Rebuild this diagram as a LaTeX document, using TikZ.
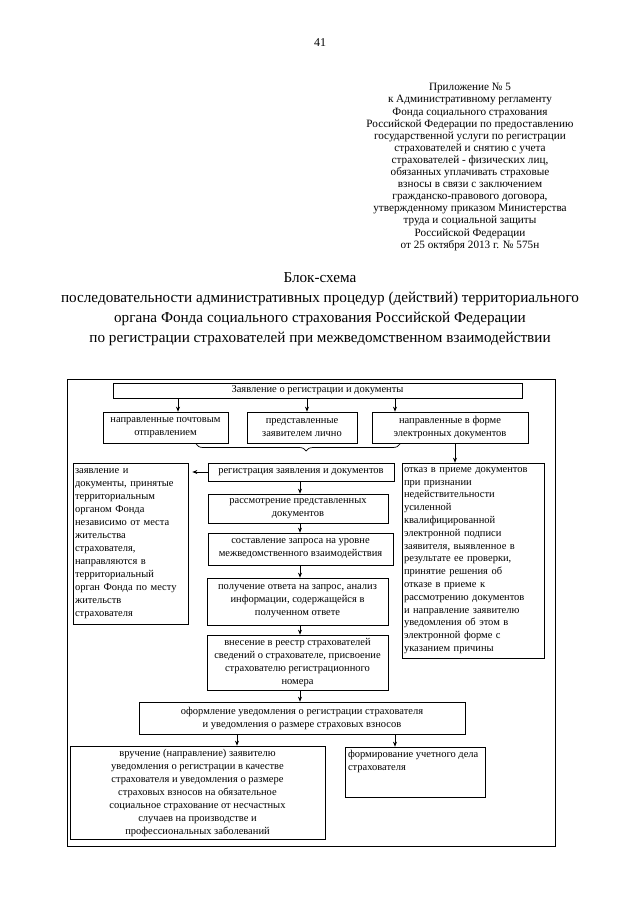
\documentclass[tikz,border=0pt]{standalone}
\usepackage{fontspec}
\setmainfont{Liberation Serif}
\usetikzlibrary{arrows.meta,decorations.pathreplacing}
\tikzset{
    every node/.style={inner sep=2pt, font=\fontsize{10.5}{13}\selectfont},
    bx/.style={draw, line width=0.7pt, align=center},
    arr/.style={-{Stealth[length=5pt,width=4pt]}, line width=0.7pt}
}

\begin{document}
\begin{tikzpicture}[x=1pt, y=-1pt]
        \useasboundingbox (0,0) rectangle (640,905);
        \node (pg) at (320, 43) {\fontsize{12}{14}\selectfont 41};
        \node (hd) [align=center, font=\fontsize{11.2}{12.1}\selectfont] at (470, 167) {Приложение № 5\\
                к Административному регламенту\\
                Фонда социального страхования\\
                Российской Федерации по предоставлению\\
                государственной услуги по регистрации\\
                страхователей и снятию с учета\\
                страхователей - физических лиц,\\
                обязанных уплачивать страховые\\
                взносы в связи с заключением\\
                гражданско-правового договора,\\
                утвержденному приказом Министерства\\
                труда и социальной защиты\\
                Российской Федерации\\
                от 25 октября 2013 г. № 575н};
        \node (tt) [align=center, font=\fontsize{15.2}{20}\selectfont] at (320, 309) {Блок-схема\\
                последовательности административных процедур (действий) территориального\\
                органа Фонда социального страхования Российской Федерации\\
                по регистрации страхователей при межведомственном взаимодействии};
        % frame
        \draw [line width=0.7pt] (67, 379) rectangle (555, 846);
        \node (b0) [bx, minimum width=409pt, minimum height=15pt, inner sep=0.5pt] at (317.5, 390.5) {Заявление о регистрации и документы};
        \node (b1) [bx, minimum width=125pt, minimum height=31pt] at (165.5, 427.5) {направленные почтовым\\ отправлением};
        \node (b2) [bx, minimum width=110pt, minimum height=31pt] at (302, 427.5) {представленные\\ заявителем лично};
        \node (b3) [bx, minimum width=156pt, minimum height=31pt] at (450, 427.5) {направленные в форме\\ электронных документов};
        \node (b4) [bx, minimum width=115pt, minimum height=161pt, text width=111pt, align=left] at (130.5, 543.5) {заявление и\\ документы, принятые\\ территориальным\\ органом Фонда\\ независимо от места\\ жительства\\ страхователя,\\ направляются в\\ территориальный\\ орган Фонда по месту\\ жительств\\ страхователя};
        \node (b5) [bx, minimum width=186pt, minimum height=18pt, inner sep=0.5pt] at (301, 472) {регистрация заявления и документов};
        \node (b6) [bx, minimum width=180pt, minimum height=29pt] at (298, 508.5) {рассмотрение представленных\\ документов};
        \node (b7) [bx, minimum width=185pt, minimum height=32pt] at (300.5, 549) {составление запроса на уровне\\ межведомственного взаимодействия};
        \node (b8) [bx, minimum width=181pt, minimum height=47pt] at (297.5, 601.5) {получение ответа на запрос, анализ\\ информации, содержащейся в\\ полученном ответе};
        \node (b9) [bx, minimum width=181pt, minimum height=55pt] at (297.5, 662.5) {внесение в реестр страхователей\\ сведений о страхователе, присвоение\\ страхователю регистрационного\\ номера};
        \node (b10) [bx, minimum width=142pt, minimum height=195pt, text width=138pt, align=left, font=\fontsize{10.5}{12.8}\selectfont] at (473, 560.5) {отказ в приеме документов\\ при признании\\ недействительности\\ усиленной\\ квалифицированной\\ электронной подписи\\ заявителя, выявленное в\\ результате ее проверки,\\ принятие решения об\\ отказе в приеме к\\ рассмотрению документов\\ и направление заявителю\\ уведомления об этом в\\ электронной форме с\\ указанием причины};
        \node (b11) [bx, minimum width=326pt, minimum height=32pt] at (302, 718) {оформление уведомления о регистрации страхователя\\ и уведомления о размере страховых взносов};
        \node (b12) [bx, minimum width=255pt, minimum height=93pt] at (197.5, 792.5) {вручение (направление) заявителю\\ уведомления о регистрации в качестве\\ страхователя и уведомления о размере\\ страховых взносов на обязательное\\ социальное страхование от несчастных\\ случаев на производстве и\\ профессиональных заболеваний};
        \node (b13) [bx, minimum width=140pt, minimum height=50pt, align=left] at (415, 772) {\parbox[t][44pt][t]{134pt}{\raggedright формирование учетного дела\\ страхователя}};
        % arrow positions
        \coordinate (a1) at (178, 0);
        \coordinate (a2) at (307, 0);
        \coordinate (a3) at (395, 0);
        \coordinate (a4) at (455, 0);
        \coordinate (a5) at (300, 0);
        \coordinate (a6) at (237, 0);
        \coordinate (c0) at (196, 444);
        \coordinate (c1) at (400, 444);
        \draw (b0.south -| a1) edge [arr] (b1.north -| a1);
        \draw (b0.south -| a2) edge [arr] (b2.north -| a2);
        \draw (b0.south -| a3) edge [arr] (b3.north -| a3);
        \draw (b3.south -| a4) edge [arr] (b10.north -| a4);
        \draw [decorate, decoration={brace, mirror, amplitude=7pt, aspect=0.54}, line width=0.7pt] (c0) -- (c1);
        \draw (b5.west) edge [arr, shorten >=4pt] (b4.east |- b5.west);
        \draw (b5.south -| a5) edge [arr] (b6.north -| a5);
        \draw (b6.south -| a5) edge [arr] (b7.north -| a5);
        \draw (b7.south -| a5) edge [arr] (b8.north -| a5);
        \draw (b8.south -| a5) edge [arr] (b9.north -| a5);
        \draw (b9.south -| a5) edge [arr] (b11.north -| a5);
        \draw (b11.south -| a6) edge [arr] (b12.north -| a6);
        \draw (b11.south -| a3) edge [arr] (b13.north -| a3);
\end{tikzpicture}
\end{document}
